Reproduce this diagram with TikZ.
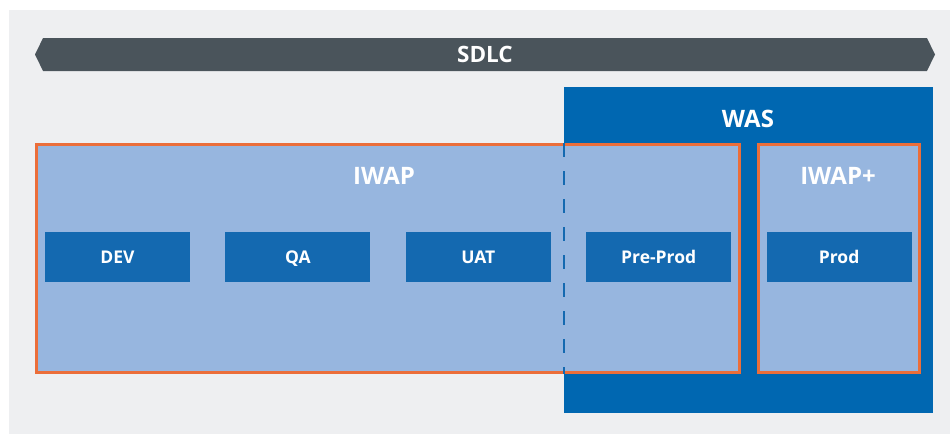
\documentclass[tikz,border=0pt]{standalone}
\usepackage{fontspec}
\setmainfont{Open Sans}
\usetikzlibrary{positioning, shapes.symbols}
\definecolor{sdBg}{HTML}{EEEFF1}
\definecolor{sdSlate}{HTML}{4A545B}
\definecolor{sdBlue}{HTML}{0067B1}
\definecolor{sdBox}{HTML}{1469B0}
\definecolor{sdLight}{HTML}{97B6DF}
\definecolor{sdOrange}{HTML}{EB6E3A}
\tikzset{
  envbox/.style={rectangle, fill=sdBox, minimum width=145pt, minimum height=50pt,
    inner sep=0pt, text height=12.5pt, text depth=0pt, text=white,
    font=\fontsize{17.5}{20}\selectfont\bfseries},
  zonebox/.style={rectangle, draw=sdOrange, line width=2.6pt, fill=sdLight,
    inner sep=0pt, anchor=north west},
  zonelabel/.style={text=white, inner sep=0pt, text height=17pt, text depth=0pt,
    font=\fontsize{24}{28}\selectfont\bfseries},
  dashline/.style={sdBox, line width=2pt, dash pattern=on 14pt off 14pt}
}
\begin{document}
\begin{tikzpicture}[x=1pt, y=-1pt]
  \useasboundingbox (0,0) rectangle (950,434);
  \fill[sdBg] (9,10) rectangle (950,434);
  % lifecycle bar
  \node[signal, signal to=west and east, signal pointer angle=128, fill=sdSlate,
    minimum width=900pt, minimum height=33pt, inner sep=0pt, text=white,
    text height=16pt, text depth=0pt,
    font=\fontsize{22.5}{26}\selectfont\bfseries] (sdlc) at (485,54.5) {SDLC};
  % WAS area
  \node[rectangle, fill=sdBlue, minimum width=369pt, minimum height=326pt,
    inner sep=0pt, anchor=north west] (was) at (564,87) {};
  \node[zonelabel] (waslbl) at (748,119) {WAS};
  % IWAP zones
  \node[zonebox, minimum width=703pt, minimum height=228pt] (iwap) at (35,143) {};
  \node[zonebox, minimum width=161pt, minimum height=228pt] (iwapplus) at (757,143) {};
  \node[zonelabel] (iwaplbl) at (384,176) {IWAP};
  \node[zonelabel] (iwappluslbl) at (838,176) {IWAP+};
  \draw[dashline] (iwap.north -| was.west) -- (iwap.south -| was.west);
  % environments
  \begin{scope}[node distance=35pt]
    \node[envbox] (dev) at (117.5,257) {DEV};
    \node[envbox, right=of dev] (qa) {QA};
    \node[envbox, right=of qa] (uat) {UAT};
    \node[envbox, right=of uat] (preprod) {Pre-Prod};
    \node[envbox, right=of preprod] (prod) {Prod};
  \end{scope}
\end{tikzpicture}
\end{document}
